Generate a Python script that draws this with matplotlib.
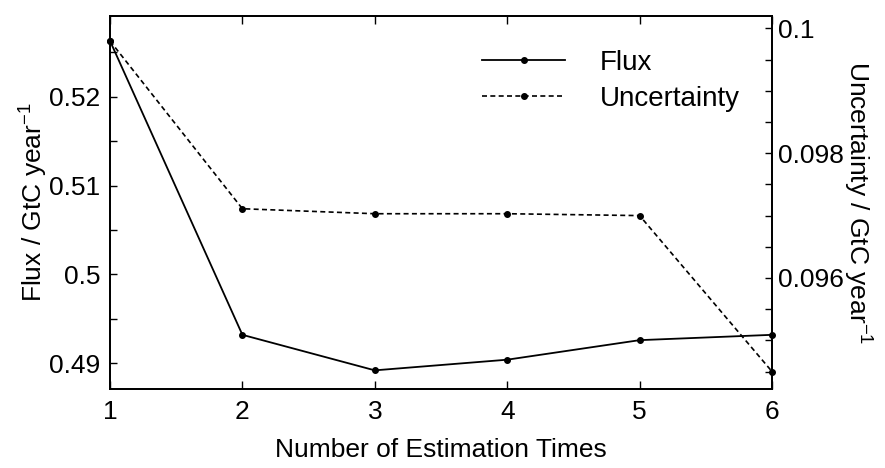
import matplotlib
matplotlib.use("Agg")
import matplotlib.pyplot as plt
from matplotlib.ticker import MultipleLocator, FixedLocator

plt.rcParams['font.family'] = ['Liberation Sans', 'DejaVu Sans']
plt.rcParams['mathtext.fontset'] = 'custom'
plt.rcParams['mathtext.rm'] = 'Liberation Sans'

# Estimation rounds
times = [1, 2, 3, 4, 5, 6]
# Flux estimate (GtC/year), left axis
flux = [0.5263, 0.4932, 0.4892, 0.4904, 0.4926, 0.4932]
# Uncertainty (GtC/year), right axis
uncertainty = [0.0998, 0.09711, 0.09703, 0.09703, 0.09700, 0.09450]

W, H = 885, 468
fig = plt.figure(figsize=(W / 100, H / 100), dpi=100)
left, right, top, bottom = 110, 772, 16, 389
ax = fig.add_axes([left / W, 1 - bottom / H, (right - left) / W, (bottom - top) / H])
ax2 = ax.twinx()

fs = 19
l1, = ax.plot(times, flux, '-', color='black', lw=1.3, marker='o', ms=4,
              label='Flux', clip_on=False, zorder=3)
l2, = ax2.plot(times, uncertainty, '--', color='black', lw=1.2, marker='o', ms=4,
               dashes=(3, 2), label='Uncertainty', clip_on=False, zorder=3)

ax.set_xlim(1, 6)
ax.set_ylim(0.4871, 0.5291)
ax2.set_ylim(0.09422, 0.1002)

ax.xaxis.set_major_locator(FixedLocator(times))
ax.yaxis.set_major_locator(FixedLocator([0.49, 0.50, 0.51, 0.52]))
ax.yaxis.set_minor_locator(MultipleLocator(0.005))
ax.set_yticklabels(['0.49', '0.5', '0.51', '0.52'])
ax2.yaxis.set_major_locator(FixedLocator([0.096, 0.098, 0.1]))
ax2.yaxis.set_minor_locator(MultipleLocator(0.0005))
ax2.set_yticklabels(['0.096', '0.098', '0.1'])

ax.tick_params(axis='x', which='both', direction='in', top=True, length=6,
               width=1, labelsize=fs, pad=8)
ax.tick_params(axis='y', which='both', direction='in', right=False, length=5,
               width=1, labelsize=fs, pad=7)
ax2.tick_params(axis='y', which='both', direction='in', length=5, width=1,
                labelsize=fs, pad=4)

for a in (ax, ax2):
    for s in a.spines.values():
        s.set_linewidth(1.3)

ax.set_xlabel('Number of Estimation Times', fontsize=fs, labelpad=10)
ax.set_ylabel('Flux / GtC year$^{-1}$', fontsize=fs)
ax.yaxis.set_label_coords(-0.092, 0.5)
ax2.set_ylabel('Uncertainty / GtC year$^{-1}$', fontsize=fs, rotation=270,
               va='center')
ax2.yaxis.set_label_coords(1.130, 0.5)

ax2.legend(handles=[l1, l2], loc='upper left', frameon=False, fontsize=20,
           handlelength=3, handletextpad=1.25, labelspacing=0.35,
           borderpad=0, borderaxespad=0,
           bbox_to_anchor=((482 - left) / (right - left), 1 - (50 - top) / (bottom - top)))

fig.savefig('out.png', dpi=100, facecolor='white')
